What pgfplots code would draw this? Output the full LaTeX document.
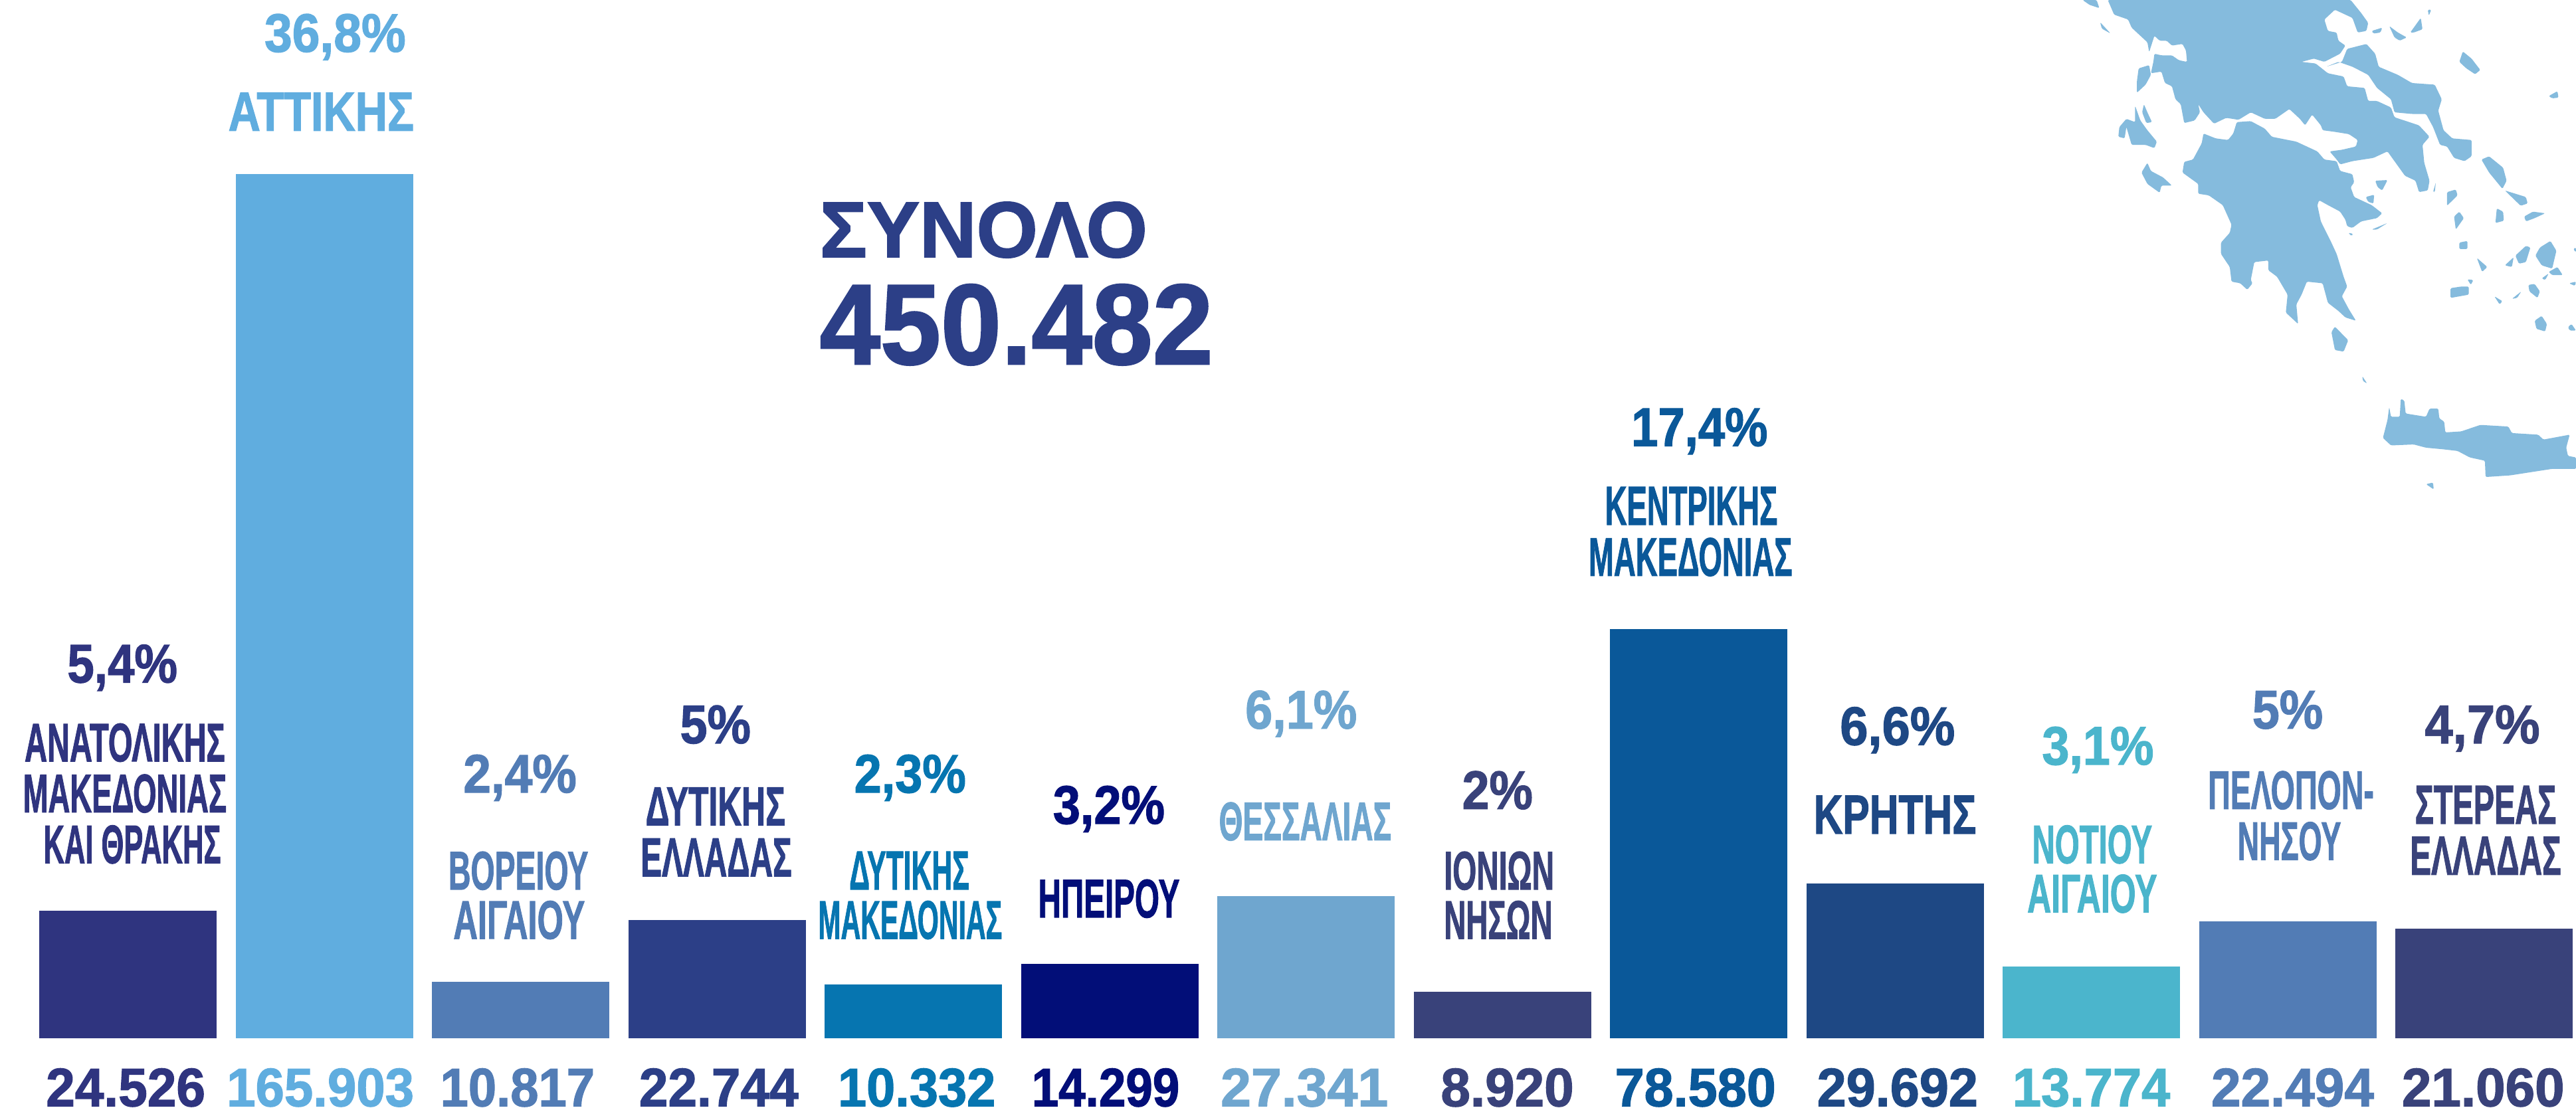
\documentclass[border=0pt]{standalone}
\usepackage{graphicx}
\usepackage{fontspec}
\setmainfont[BoldFeatures={FakeBold=1.6}]{Liberation Sans}
\usepackage{pgfplots}
\pgfplotsset{compat=1.18}
\definecolor{c0}{HTML}{2F347F}
\definecolor{c1}{HTML}{60ADDF}
\definecolor{c2}{HTML}{527CB5}
\definecolor{c3}{HTML}{2C3F87}
\definecolor{c4}{HTML}{0675B0}
\definecolor{c5}{HTML}{020E78}
\definecolor{c6}{HTML}{6FA6CF}
\definecolor{c7}{HTML}{39427A}
\definecolor{c8}{HTML}{0A5899}
\definecolor{c9}{HTML}{1E4884}
\definecolor{c10}{HTML}{4BB5CC}
\definecolor{c11}{HTML}{527CB5}
\definecolor{c12}{HTML}{39427A}
\definecolor{mapc}{HTML}{85BBDD}
\newlength\ovw \setlength\ovw{0.61815pt}
% \lab{centre x}{centre y}{width}{colour}{text}, in units of the 1568 px view
\newcommand\lab[5]{\node[anchor=base,inner sep=0pt,text=#4] at ({#1*0.61815pt},{418.5pt-#2*0.61815pt-7.125pt}) {\resizebox{#3\ovw}{14.25pt}{\bfseries #5}};}
\begin{document}
\begin{tikzpicture}
\path (0,0) rectangle (969.25pt,418.5pt);
\begin{scope}[shift={(762.5pt,418.5pt)},x=0.13186pt,y=-0.12255pt,rounded corners=0.4pt]
\fill[mapc] (232,0)--(250,45)--(290,60)--(300,85)--(345,130)--(350,160)--(365,110)--(380,125)--(400,125)--(415,140)--(445,135)--(455,155)--(458,190)--(435,185)--(415,170)--(385,170)--(365,165)--(362,190)--(355,225)--(385,220)--(395,255)--(415,265)--(425,305)--(440,320)--(450,378)--(480,370)--(495,345)--(490,320)--(505,345)--(535,380)--(570,362)--(605,368)--(640,345)--(680,365)--(710,365)--(750,335)--(780,365)--(795,385)--(815,352)--(840,385)--(845,400)--(880,405)--(920,412)--(945,430)--(940,450)--(900,460)--(865,465)--(885,490)--(895,505)--(930,495)--(990,485)--(1030,465)--(1040,480)--(1060,510)--(1080,540)--(1110,555)--(1120,590)--(1145,585)--(1150,555)--(1135,500)--(1130,445)--(1150,420)--(1120,385)--(1050,360)--(1040,330)--(1000,310)--(975,310)--(965,270)--(915,265)--(905,235)--(860,225)--(825,195)--(785,190)--(820,180)--(850,190)--(895,165)--(910,140)--(890,125)--(885,100)--(860,95)--(850,60)--(880,30)--(930,55)--(945,100)--(970,95)--(975,70)--(955,40)--(925,0)--cycle;
\fill[mapc] (505,410)--(540,425)--(575,430)--(590,410)--(600,375)--(640,372)--(680,395)--(700,420)--(770,435)--(830,465)--(850,490)--(885,495)--(895,525)--(930,535)--(935,560)--(925,575)--(935,605)--(985,630)--(1015,655)--(1000,670)--(955,680)--(930,700)--(915,695)--(910,675)--(895,650)--(860,630)--(835,615)--(830,630)--(840,680)--(870,745)--(885,780)--(905,850)--(915,880)--(900,910)--(920,950)--(940,985)--(910,975)--(890,955)--(860,930)--(845,870)--(800,865)--(785,905)--(770,935)--(775,995)--(740,960)--(745,905)--(715,850)--(690,830)--(690,800)--(650,805)--(640,860)--(645,870)--(630,890)--(610,870)--(585,865)--(580,820)--(555,780)--(555,745)--(580,715)--(585,690)--(560,630)--(520,600)--(490,595)--(490,565)--(445,530)--(450,497)--(475,490)--(500,440)--cycle;
\fill[mapc] (855,205)--(900,190)--(915,150)--(970,135)--(995,165)--(1005,205)--(1060,230)--(1100,255)--(1165,260)--(1185,305)--(1175,340)--(1190,400)--(1215,425)--(1270,430)--(1270,480)--(1250,495)--(1220,485)--(1200,450)--(1180,445)--(1160,390)--(1140,350)--(1100,350)--(1050,345)--(1040,305)--(1000,270)--(975,230)--(930,205)--(890,190)--cycle;
\fill[mapc] (1017,1345)--(1030,1290)--(1035,1250)--(1040,1280)--(1065,1280)--(1068,1225)--(1078,1230)--(1082,1270)--(1140,1280)--(1150,1255)--(1175,1255)--(1178,1285)--(1192,1295)--(1195,1328)--(1240,1325)--(1295,1305)--(1375,1310)--(1385,1330)--(1460,1335)--(1475,1350)--(1550,1335)--(1540,1375)--(1545,1400)--(1568,1405)--(1568,1440)--(1500,1440)--(1440,1450)--(1380,1460)--(1310,1465)--(1308,1415)--(1265,1405)--(1230,1385)--(1190,1380)--(1140,1375)--(1105,1365)--(1040,1368)--cycle;
\fill[mapc] (320,210)--(350,200)--(355,230)--(340,260)--(315,285)--(315,250)--cycle;
\fill[mapc] (265,390)--(285,365)--(310,375)--(310,325)--(325,370)--(345,400)--(372,435)--(365,455)--(340,445)--(300,445)--(285,390)--(280,425)--(262,420)--cycle;
\fill[mapc] (335,320)--(345,345)--(358,375)--(342,378)--(330,345)--cycle;
\fill[mapc] (345,500)--(355,525)--(390,545)--(415,570)--(385,570)--(380,592)--(345,565)--(328,530)--cycle;
\fill[mapc] (160,0)--(200,0)--(208,25)--(180,15)--cycle;
\fill[mapc] (210,68)--(240,103)--(215,88)--cycle;
\fill[mapc] (985,95)--(1015,85)--(1010,100)--(990,103)--cycle;
\fill[mapc] (1035,80)--(1060,100)--(1085,115)--(1065,125)--(1050,115)--cycle;
\fill[mapc] (1095,100)--(1125,55)--(1130,90)--(1105,100)--cycle;
\fill[mapc] (1245,158)--(1270,180)--(1295,215)--(1280,228)--(1255,210)--(1235,190)--cycle;
\fill[mapc] (1298,490)--(1320,480)--(1360,515)--(1370,555)--(1358,580)--(1320,530)--cycle;
\fill[mapc] (1365,585)--(1425,605)--(1430,625)--(1410,632)--cycle;
\fill[mapc] (1200,590)--(1225,582)--(1230,600)--(1200,632)--cycle;
\fill[mapc] (1235,650)--(1248,670)--(1225,705)--(1220,665)--cycle;
\fill[mapc] (1342,640)--(1360,650)--(1362,678)--(1338,685)--cycle;
\fill[mapc] (1235,745)--(1258,740)--(1258,765)--(1235,765)--cycle;
\fill[mapc] (1285,792)--(1315,820)--(1300,835)--cycle;
\fill[mapc] (1395,785)--(1425,755)--(1438,760)--(1425,805)--(1405,810)--cycle;
\fill[mapc] (1365,815)--(1390,790)--(1385,820)--cycle;
\fill[mapc] (1465,760)--(1495,740)--(1512,770)--(1500,825)--(1470,815)--(1452,785)--cycle;
\fill[mapc] (1210,885)--(1240,880)--(1262,880)--(1262,905)--(1210,915)--cycle;
\fill[mapc] (1258,858)--(1275,860)--(1268,875)--cycle;
\fill[mapc] (1432,875)--(1450,872)--(1465,895)--(1458,915)--(1435,895)--cycle;
\fill[mapc] (1385,918)--(1412,895)--(1400,915)--cycle;
\fill[mapc] (1450,985)--(1470,970)--(1485,995)--(1480,1018)--(1455,1010)--cycle;
\fill[mapc] (1545,1005)--(1555,995)--(1568,1015)--(1550,1015)--cycle;
\fill[mapc] (880,1003)--(918,1045)--(905,1080)--(880,1075)--(870,1020)--cycle;
\fill[mapc] (958,1155)--(972,1178)--(960,1170)--cycle;
\fill[mapc] (995,555)--(1030,553)--(1015,585)--(1002,575)--cycle;
\fill[mapc] (968,605)--(992,598)--(990,625)--(975,620)--cycle;
\fill[mapc] (985,705)--(1030,685)--(1000,705)--cycle;
\fill[mapc] (918,715)--(932,718)--(928,725)--cycle;
\fill[mapc] (1160,590)--(1168,560)--(1165,590)--cycle;
\fill[mapc] (1140,1487)--(1160,1482)--(1162,1503)--cycle;
\fill[mapc] (1490,295)--(1515,280)--(1518,300)--(1500,302)--cycle;
\fill[mapc] (1420,665)--(1445,650)--(1480,655)--(1450,670)--(1425,680)--cycle;
\fill[mapc] (1470,855)--(1490,840)--(1480,860)--cycle;
\fill[mapc] (1490,835)--(1515,820)--(1530,845)--(1500,845)--cycle;
\fill[mapc] (1335,910)--(1358,925)--(1350,935)--cycle;
\fill[mapc] (1548,870)--(1568,865)--(1565,878)--cycle;
\fill[mapc] (1560,765)--(1568,760)--(1568,775)--cycle;
\fill[mapc] (1145,30)--(1155,30)--(1148,48)--cycle;
\end{scope}
\begin{axis}[at={(0,0)},anchor=south west,scale only axis,width=969.25pt,height=418.5pt,
  hide axis,xmin=-0.6514,xmax=12.468,ymin=-14158,ymax=199362,
  ybar,bar width=66.75pt,bar shift=0pt]
\addplot[draw=none,fill=c0]  coordinates {(0,24526)};
\addplot[draw=none,fill=c1]  coordinates {(1,165903)};
\addplot[draw=none,fill=c2]  coordinates {(2,10817)};
\addplot[draw=none,fill=c3]  coordinates {(3,22744)};
\addplot[draw=none,fill=c4]  coordinates {(4,10332)};
\addplot[draw=none,fill=c5]  coordinates {(5,14299)};
\addplot[draw=none,fill=c6]  coordinates {(6,27341)};
\addplot[draw=none,fill=c7]  coordinates {(7,8920)};
\addplot[draw=none,fill=c8]  coordinates {(8,78580)};
\addplot[draw=none,fill=c9]  coordinates {(9,29692)};
\addplot[draw=none,fill=c10] coordinates {(10,13774)};
\addplot[draw=none,fill=c11] coordinates {(11,22494)};
\addplot[draw=none,fill=c12] coordinates {(12,21060)};
\end{axis}
% percentages
\lab{74.5}{404}{67}{c0}{5,4\%}
\lab{204}{20}{86}{c1}{36,8\%}
\lab{316.5}{471}{69}{c2}{2,4\%}
\lab{435.5}{441}{43}{c3}{5\%}
\lab{554}{471}{68}{c4}{2,3\%}
\lab{675}{490}{68}{c5}{3,2\%}
\lab{792}{432}{68}{c6}{6,1\%}
\lab{911.5}{481}{43}{c7}{2\%}
\lab{1034.5}{260}{83}{c8}{17,4\%}
\lab{1155}{442}{70}{c9}{6,6\%}
\lab{1277}{454}{68}{c10}{3,1\%}
\lab{1392.5}{432}{43}{c11}{5\%}
\lab{1511}{441}{70}{c12}{4,7\%}
% region names
\lab{76}{452}{122}{c0}{ΑΝΑΤΟΛΙΚΗΣ}
\lab{76}{483}{124}{c0}{ΜΑΚΕΔΟΝΙΑΣ}
\lab{80.5}{514}{108}{c0}{ΚΑΙ ΘΡΑΚΗΣ}
\lab{195.5}{68}{113}{c1}{ΑΤΤΙΚΗΣ}
\lab{315.5}{530}{85}{c2}{ΒΟΡΕΙΟΥ}
\lab{316}{560}{80}{c2}{ΑΙΓΑΙΟΥ}
\lab{435.5}{491}{85}{c3}{ΔΥΤΙΚΗΣ}
\lab{436}{522}{92}{c3}{ΕΛΛΑΔΑΣ}
\lab{553.5}{530}{73}{c4}{ΔΥΤΙΚΗΣ}
\lab{554}{560}{112}{c4}{ΜΑΚΕΔΟΝΙΑΣ}
\lab{675}{547}{86}{c5}{ΗΠΕΙΡΟΥ}
\lab{794.5}{500}{105}{c6}{ΘΕΣΣΑΛΙΑΣ}
\lab{912.5}{530}{67}{c7}{ΙΟΝΙΩΝ}
\lab{912}{560}{66}{c7}{ΝΗΣΩΝ}
\lab{1029.5}{308}{105}{c8}{ΚΕΝΤΡΙΚΗΣ}
\lab{1029}{339}{124}{c8}{ΜΑΚΕΔΟΝΙΑΣ}
\lab{1153.5}{496}{99}{c9}{ΚΡΗΤΗΣ}
\lab{1273.5}{514}{73}{c10}{ΝΟΤΙΟΥ}
\lab{1273.5}{544}{79}{c10}{ΑΙΓΑΙΟΥ}
\lab{1394.5}{481}{101}{c11}{ΠΕΛΟΠΟΝ-}
\lab{1393.5}{512}{63}{c11}{ΝΗΣΟΥ}
\lab{1513}{490}{86}{c12}{ΣΤΕΡΕΑΣ}
\lab{1513}{521}{92}{c12}{ΕΛΛΑΔΑΣ}
% values
\lab{76.5}{662}{97}{c0}{24.526}
\lab{195}{662}{114}{c1}{165.903}
\lab{315}{662}{94}{c2}{10.817}
\lab{437.5}{662}{97}{c3}{22.744}
\lab{558}{662}{96}{c4}{10.332}
\lab{673}{662}{90}{c5}{14.299}
\lab{794}{662}{102}{c6}{27.341}
\lab{917.5}{662}{81}{c7}{8.920}
\lab{1032}{662}{98}{c8}{78.580}
\lab{1155}{662}{98}{c9}{29.692}
\lab{1273}{662}{96}{c10}{13.774}
\lab{1395.5}{662}{99}{c11}{22.494}
\lab{1511.5}{662}{99}{c12}{21.060}
% total
\node[anchor=base west,inner sep=0pt,text=c3] at (308.25pt,{418.5pt-387*0.25pt}) {\resizebox{123.25pt}{20.75pt}{\bfseries ΣΥΝΟΛΟ}};
\node[anchor=base west,inner sep=0pt,text=c3] at (308.25pt,{418.5pt-548*0.25pt}) {\resizebox{148pt}{30pt}{\bfseries 450.482}};
\end{tikzpicture}
\end{document}
